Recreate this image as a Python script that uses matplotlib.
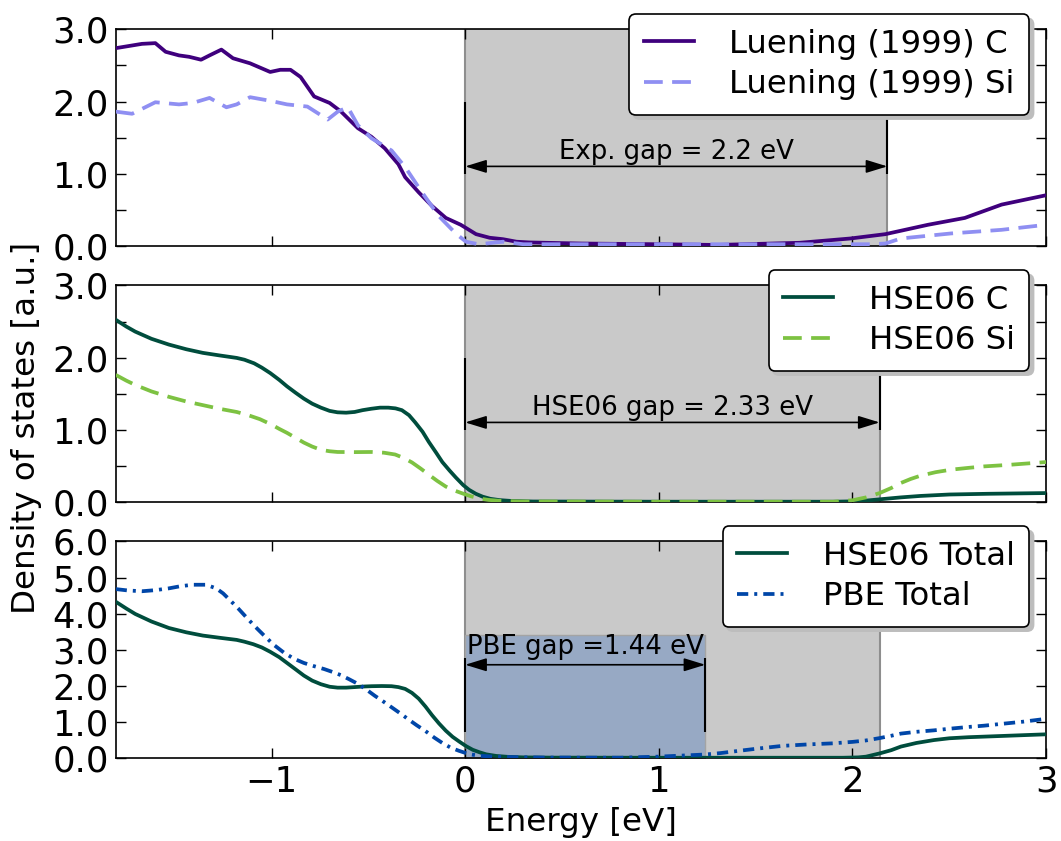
import matplotlib
matplotlib.use("Agg")
import matplotlib.pyplot as plt

exp_c_energy = [-1.805, -1.669, -1.60, -1.547, -1.478, -1.425, -1.364, -1.32, -1.259,
                -1.199, -1.111, -1.007, -0.955, -0.902, -0.85, -0.78, -0.70, -0.641,
                -0.554, -0.484, -0.415, -0.345, -0.31, -0.24, -0.171, -0.10, -0.023,
                0.056, 0.126, 0.195, 0.265, 0.33, 0.60, 0.995, 1.30, 1.727, 1.99,
                2.17, 2.39, 2.58, 2.77, 3.0]
exp_c_dos = [2.74, 2.80, 2.81, 2.69, 2.64, 2.62, 2.58, 2.64, 2.72,
             2.60, 2.53, 2.41, 2.44, 2.44, 2.34, 2.07, 1.98, 1.86,
             1.63, 1.51, 1.35, 1.13, 0.95, 0.74, 0.55, 0.385, 0.29,
             0.16, 0.11, 0.09, 0.055, 0.045, 0.03, 0.02, 0.01, 0.04, 0.10,
             0.16, 0.29, 0.385, 0.57, 0.70]

exp_si_energy = [-1.805, -1.72, -1.60, -1.478, -1.407, -1.32, -1.233, -1.18, -1.111,
                 -1.007, -0.92, -0.815, -0.71, -0.658, -0.606, -0.554, -0.484, -0.38,
                 -0.31, -0.223, -0.136, -0.049, 0.004, 0.07, 0.195, 0.30, 1.0, 2.10,
                 2.17, 2.25, 2.51, 2.77, 3.0]
exp_si_dos = [1.86, 1.83, 1.99, 1.96, 1.98, 2.05, 1.92, 1.96, 2.06,
              2.01, 1.96, 1.93, 1.75, 1.86, 1.92, 1.67, 1.49, 1.32,
              1.09, 0.74, 0.41, 0.17, 0.055, 0.02, 0.055, 0.02, 0.02, 0.02,
              0.03, 0.10, 0.17, 0.22, 0.29]

# HSE06 partial DOS
hse_c_energy = [-1.805, -1.75, -1.704, -1.62, -1.53, -1.44, -1.355, -1.27, -1.18,
                -1.14, -1.09, -1.05, -1.007, -0.96, -0.92, -0.875, -0.833, -0.79,
                -0.745, -0.70, -0.659, -0.615, -0.571, -0.53, -0.484, -0.44, -0.397,
                -0.36, -0.327, -0.29, -0.258, -0.22, -0.188, -0.15, -0.118, -0.08,
                -0.048, -0.01, 0.02, 0.055, 0.09, 0.13, 0.178, 0.24, 0.35, 1.0,
                1.9, 2.0, 2.07, 2.14, 2.25, 2.35, 2.5, 2.7, 3.0]
hse_c_dos = [2.525, 2.43, 2.36, 2.26, 2.18, 2.115, 2.065, 2.03, 1.995,
             1.97, 1.92, 1.86, 1.785, 1.69, 1.60, 1.51, 1.43, 1.36,
             1.305, 1.26, 1.24, 1.235, 1.245, 1.27, 1.29, 1.305, 1.305,
             1.295, 1.27, 1.20, 1.10, 0.97, 0.83, 0.68, 0.55, 0.43,
             0.335, 0.23, 0.165, 0.11, 0.07, 0.04, 0.022, 0.01, 0.003, 0.0,
             0.0, 0.005, 0.015, 0.033, 0.06, 0.08, 0.10, 0.11, 0.12]

hse_si_energy = [-1.805, -1.75, -1.704, -1.62, -1.53, -1.44, -1.355, -1.27, -1.18,
                 -1.12, -1.06, -1.0, -0.96, -0.92, -0.875, -0.833, -0.79, -0.745,
                 -0.70, -0.659, -0.57, -0.484, -0.42, -0.362, -0.32, -0.275, -0.23,
                 -0.188, -0.145, -0.10, -0.055, -0.014, 0.03, 0.073, 0.12, 0.18,
                 0.28, 1.0, 1.9, 2.0, 2.07, 2.14, 2.2, 2.25, 2.30, 2.35, 2.43,
                 2.51, 2.6, 2.68, 2.8, 2.9, 3.0]
hse_si_dos = [1.76, 1.68, 1.62, 1.53, 1.455, 1.39, 1.34, 1.29, 1.245,
              1.20, 1.145, 1.07, 1.01, 0.955, 0.885, 0.82, 0.765, 0.72,
              0.70, 0.69, 0.688, 0.69, 0.68, 0.655, 0.61, 0.545, 0.46,
              0.375, 0.29, 0.21, 0.155, 0.115, 0.075, 0.045, 0.025, 0.012,
              0.004, 0.0, 0.0, 0.02, 0.06, 0.12, 0.19, 0.26, 0.315, 0.36, 0.41,
              0.445, 0.47, 0.49, 0.51, 0.53, 0.55]

# total DOS, HSE06 vs PBE
hse_tot_energy = [-1.805, -1.75, -1.704, -1.62, -1.53, -1.44, -1.355, -1.27, -1.18,
                  -1.14, -1.094, -1.05, -1.007, -0.96, -0.92, -0.875, -0.833, -0.79,
                  -0.745, -0.70, -0.659, -0.615, -0.571, -0.53, -0.484, -0.43, -0.38,
                  -0.345, -0.31, -0.275, -0.24, -0.205, -0.171, -0.135, -0.10, -0.065,
                  -0.031, 0.005, 0.039, 0.075, 0.108, 0.16, 0.22, 0.30, 0.45, 1.0,
                  1.95, 2.03, 2.07, 2.14, 2.20, 2.25, 2.33, 2.42, 2.50, 2.60, 2.75, 3.0]
hse_tot_dos = [4.33, 4.14, 3.99, 3.78, 3.60, 3.48, 3.39, 3.33, 3.27,
               3.22, 3.15, 3.06, 2.94, 2.79, 2.63, 2.45, 2.28, 2.14,
               2.04, 1.97, 1.945, 1.945, 1.96, 1.975, 1.985, 1.99, 1.985,
               1.96, 1.91, 1.80, 1.64, 1.42, 1.18, 0.95, 0.75, 0.58,
               0.45, 0.32, 0.22, 0.15, 0.095, 0.05, 0.025, 0.01, 0.003, 0.0,
               0.0, 0.01, 0.03, 0.12, 0.21, 0.31, 0.41, 0.49, 0.54, 0.57, 0.60, 0.65]

pbe_tot_energy = [-1.805, -1.74, -1.669, -1.60, -1.53, -1.47, -1.407, -1.338, -1.286,
                  -1.25, -1.216, -1.17, -1.129, -1.085, -1.042, -0.99, -0.937, -0.885,
                  -0.833, -0.78, -0.728, -0.685, -0.641, -0.60, -0.554, -0.51, -0.467,
                  -0.42, -0.38, -0.335, -0.292, -0.25, -0.205, -0.16, -0.118, -0.075,
                  -0.031, 0.02, 0.073, 0.15, 0.22, 0.40, 0.80, 0.995, 1.12, 1.24,
                  1.32, 1.41, 1.52, 1.64, 1.77, 1.90, 2.0, 2.07, 2.14, 2.20, 2.25,
                  2.33, 2.42, 2.51, 2.60, 2.68, 2.77, 2.88, 3.0]
pbe_tot_dos = [4.68, 4.64, 4.62, 4.65, 4.70, 4.76, 4.80, 4.80, 4.70,
               4.56, 4.38, 4.13, 3.89, 3.64, 3.41, 3.14, 2.92, 2.75,
               2.63, 2.54, 2.46, 2.38, 2.29, 2.18, 2.05, 1.89, 1.72,
               1.55, 1.40, 1.23, 1.06, 0.90, 0.74, 0.56, 0.41, 0.28,
               0.19, 0.10, 0.055, 0.03, 0.02, 0.005, 0.0, 0.03, 0.06, 0.09,
               0.13, 0.19, 0.26, 0.33, 0.37, 0.40, 0.44, 0.48, 0.545, 0.61, 0.67,
               0.72, 0.76, 0.81, 0.855, 0.89, 0.94, 1.0, 1.08]

# gap markers: arrow end (eV), arrow height, label height, bar extent, label
gap_ends = [2.18, 2.14, 1.24]
gap_arrow_y = [1.1, 1.1, 2.58]
gap_text_y = [1.2, 1.2, 2.89]
gap_bar_lo = [1.0, 1.0, 0.72]
gap_bar_hi = [2.0, 2.0, 2.76]
gap_labels = ["Exp. gap = 2.2 eV", "HSE06 gap = 2.33 eV", "PBE gap =1.44 eV"]
hse_gray_end = 2.14
pbe_box_top = 3.4

ytick_small = [0.0, 0.5, 1.0, 1.5, 2.0, 2.5, 3.0]
ytick_small_labels = ["0.0", "", "1.0", "", "2.0", "", "3.0"]
ytick_tot = [0, 1, 2, 3, 4, 5, 6]
ytick_tot_labels = ["0.0", "1.0", "2.0", "3.0", "4.0", "5.0", "6.0"]
xticks = [-1, 0, 1, 2, 3]

c_purple = "#3f007d"
c_lilac = "#8f8ff2"
c_dkgreen = "#004d3d"
c_ltgreen = "#7dc242"
c_blue = "#0046a8"
c_shade = "#c9c9c9"
c_shade_edge = "#8e8e8e"
c_pbe = "#97a9c4"

TICK_FS = 25.5
LABEL_FS = 23.4
LEG_FS = 23.3
ANN_FS = 18.7

fig, axes = plt.subplots(3, 1, figsize=(10.61, 8.41), dpi=100, sharex=True)
fig.subplots_adjust(left=0.109, right=0.986, bottom=0.099, top=0.965, hspace=0.184)
ax1, ax2, ax3 = axes

lw = 2.7

ax1.plot(exp_c_energy, exp_c_dos, color=c_purple, lw=lw, label="Luening (1999) C", zorder=3)
ax1.plot(exp_si_energy, exp_si_dos, color=c_lilac, lw=lw, dashes=(5, 2.5),
         label="Luening (1999) Si", zorder=3)

ax2.plot(hse_c_energy, hse_c_dos, color=c_dkgreen, lw=lw, label="HSE06 C", zorder=3)
ax2.plot(hse_si_energy, hse_si_dos, color=c_ltgreen, lw=lw, dashes=(5, 2.5),
         label="HSE06 Si", zorder=3)

ax3.plot(hse_tot_energy, hse_tot_dos, color=c_dkgreen, lw=lw, label="HSE06 Total", zorder=3)
ax3.plot(pbe_tot_energy, pbe_tot_dos, color=c_blue, lw=lw, dashes=(3, 1.6, 0.8, 1.6),
         label="PBE Total", zorder=3)

# shaded gap regions
for ax, end in zip(axes, [gap_ends[0], gap_ends[1], hse_gray_end]):
    ax.axvspan(0, end, facecolor=c_shade, edgecolor="none", zorder=0)
    ax.axvline(0, color=c_shade_edge, lw=1.5, zorder=1)
    ax.axvline(end, color=c_shade_edge, lw=1.5, zorder=1)
ax3.fill_between([0, gap_ends[2]], 0, pbe_box_top, facecolor=c_pbe,
                 edgecolor="#a4a4a4", lw=1.0, zorder=1)

for ax, end, ya, yt, lo, hi, txt in zip(axes, gap_ends, gap_arrow_y, gap_text_y,
                                        gap_bar_lo, gap_bar_hi, gap_labels):
    ax.vlines([0, end], lo, hi, color="black", lw=1.5, zorder=4)
    ax.annotate("", xy=(0, ya), xytext=(end, ya),
                arrowprops=dict(arrowstyle="<|-|>,head_length=0.65,head_width=0.2",
                                color="black", lw=1.2, shrinkA=0, shrinkB=0,
                                mutation_scale=20), zorder=5)
    ax.text(end / 2.0, yt, txt, ha="center", va="baseline", fontsize=ANN_FS, zorder=5)

ax1.set_ylim(0, 3)
ax2.set_ylim(0, 3)
ax3.set_ylim(0, 6)
ax3.set_xlim(-1.805, 3)

for ax in (ax1, ax2):
    ax.set_yticks(ytick_small)
    ax.set_yticklabels(ytick_small_labels)
ax3.set_yticks(ytick_tot)
ax3.set_yticklabels(ytick_tot_labels)
ax3.set_xticks(xticks)

for ax in axes:
    ax.tick_params(direction="in", top=True, right=True, length=7, width=1,
                   labelsize=TICK_FS, pad=5)
    for s in ax.spines.values():
        s.set_linewidth(1.2)
    leg = ax.legend(loc="upper right", bbox_to_anchor=(0.982, 1.071), borderaxespad=0,
                    fontsize=LEG_FS, handlelength=1.55, handletextpad=1.1,
                    borderpad=0.45, labelspacing=0.3, fancybox=True,
                    shadow={"ox": 3, "oy": -3, "facecolor": "#bdbdbd",
                            "edgecolor": "#bdbdbd", "alpha": 1},
                    framealpha=1)
    leg.get_frame().set_edgecolor("black")
    leg.get_frame().set_linewidth(1.2)
    leg.set_zorder(10)

for ax in (ax1, ax2):
    ax.tick_params(labelbottom=False)

ax3.set_xlabel("Energy [eV]", fontsize=LABEL_FS, labelpad=6)
fig.text(0.025, 0.491, "Density of states [a.u.]", rotation=90, ha="center",
         va="center", fontsize=LABEL_FS)

fig.savefig("out.png", dpi=100)
